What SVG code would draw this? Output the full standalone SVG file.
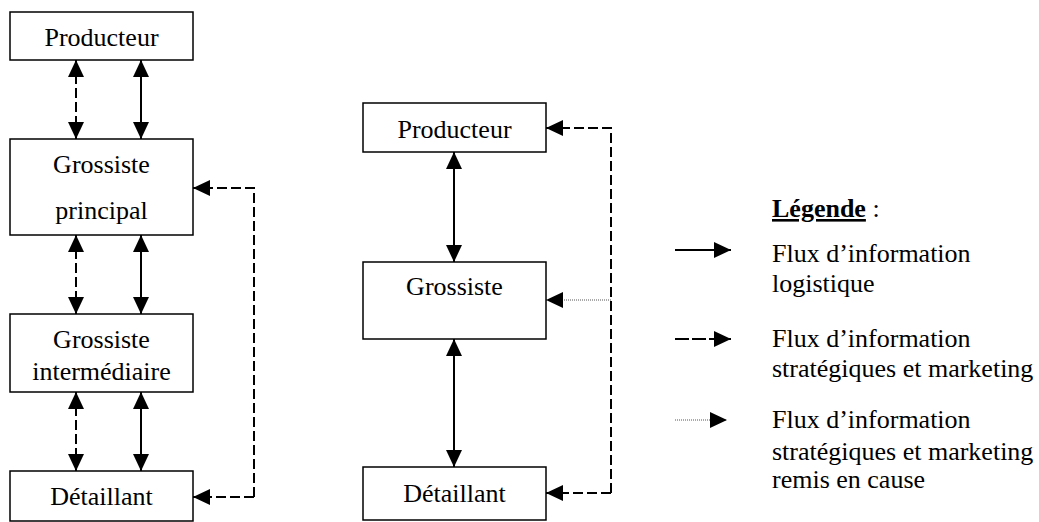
<svg xmlns="http://www.w3.org/2000/svg" width="1039" height="522" viewBox="0 0 1039 522">
<style>
  .box { fill: #fff; stroke: #000; stroke-width: 1.5; }
  .lbl { font-family: "Liberation Serif", "Times New Roman", serif; font-size: 26px; fill: #000; }
  .mid { text-anchor: middle; }
  .solid { stroke: #000; stroke-width: 2; fill: none; }
  .dash { stroke: #000; stroke-width: 2; fill: none; stroke-dasharray: 10 4; }
  .ldash { stroke: #000; stroke-width: 2; fill: none; stroke-dasharray: 14 3; }
  .dot { stroke: #555; stroke-width: 1; fill: none; stroke-dasharray: 1 1; }
  .dbl { marker-start: url(#ah); marker-end: url(#ah); }
  .end { marker-end: url(#ah); }
</style>
<defs>
  <marker id="ah" markerUnits="userSpaceOnUse" markerWidth="17" markerHeight="16" viewBox="0 0 17 16" refX="17" refY="8" orient="auto-start-reverse">
    <path d="M0,0 L17,8 L0,16 Z" fill="#000"/>
  </marker>
</defs>
<rect width="1039" height="522" fill="#fff"/>

<g id="connectors">
  <!-- left column -->
  <line class="dash dbl" x1="76" y1="60" x2="76" y2="139"/>
  <line class="solid dbl" x1="141" y1="60" x2="141" y2="139"/>
  <line class="dash dbl" x1="76" y1="235" x2="76" y2="314"/>
  <line class="solid dbl" x1="141" y1="235" x2="141" y2="314"/>
  <line class="dash dbl" x1="76" y1="392" x2="76" y2="471"/>
  <line class="solid dbl" x1="141" y1="392" x2="141" y2="471"/>
  <path class="dash end" d="M254,497 L254,188 L193,188"/>
  <path class="dash end" d="M254,497 L193,497"/>
  <!-- middle column -->
  <line class="solid dbl" x1="454" y1="152" x2="454" y2="262"/>
  <line class="solid dbl" x1="454" y1="339" x2="454" y2="467"/>
  <path class="dash end" d="M611,493 L611,128 L546,128"/>
  <path class="dash end" d="M611,493 L546,493"/>
  <path class="dot end" d="M611,300 L546,300"/>
</g>

<g id="left-producteur">
  <rect class="box" x="10" y="12" width="183" height="48"/>
  <text class="lbl mid" x="101.5" y="46">Producteur</text>
</g>
<g id="left-grossiste-principal">
  <rect class="box" x="10" y="139" width="183" height="96"/>
  <text class="lbl mid" x="101.5" y="173">Grossiste</text>
  <text class="lbl mid" x="101.5" y="219">principal</text>
</g>
<g id="left-grossiste-intermediaire">
  <rect class="box" x="10" y="314" width="183" height="78"/>
  <text class="lbl mid" x="101.5" y="348">Grossiste</text>
  <text class="lbl mid" x="101.5" y="380">intermédiaire</text>
</g>
<g id="left-detaillant">
  <rect class="box" x="10" y="471" width="183" height="50"/>
  <text class="lbl mid" x="101.5" y="505">Détaillant</text>
</g>

<g id="mid-producteur">
  <rect class="box" x="363" y="103" width="183" height="49"/>
  <text class="lbl mid" x="454.5" y="138">Producteur</text>
</g>
<g id="mid-grossiste">
  <rect class="box" x="363" y="262" width="183" height="77"/>
  <text class="lbl mid" x="454.5" y="295">Grossiste</text>
</g>
<g id="mid-detaillant">
  <rect class="box" x="363" y="467" width="183" height="53"/>
  <text class="lbl mid" x="454.5" y="502">Détaillant</text>
</g>

<g id="legend">
  <text class="lbl" x="772" y="217"><tspan font-weight="bold" text-decoration="underline">Légende</tspan> :</text>
  <line class="solid end" x1="675" y1="250" x2="731" y2="250"/>
  <text class="lbl" x="772" y="262">Flux d’information</text>
  <text class="lbl" x="772" y="292">logistique</text>
  <line class="ldash end" x1="675" y1="339" x2="731" y2="339"/>
  <text class="lbl" x="772" y="347">Flux d’information</text>
  <text class="lbl" x="772" y="377">stratégiques et marketing</text>
  <line class="dot end" x1="675" y1="420" x2="727" y2="420"/>
  <text class="lbl" x="772" y="428">Flux d’information</text>
  <text class="lbl" x="772" y="460">stratégiques et marketing</text>
  <text class="lbl" x="772" y="488">remis en cause</text>
</g>
</svg>
